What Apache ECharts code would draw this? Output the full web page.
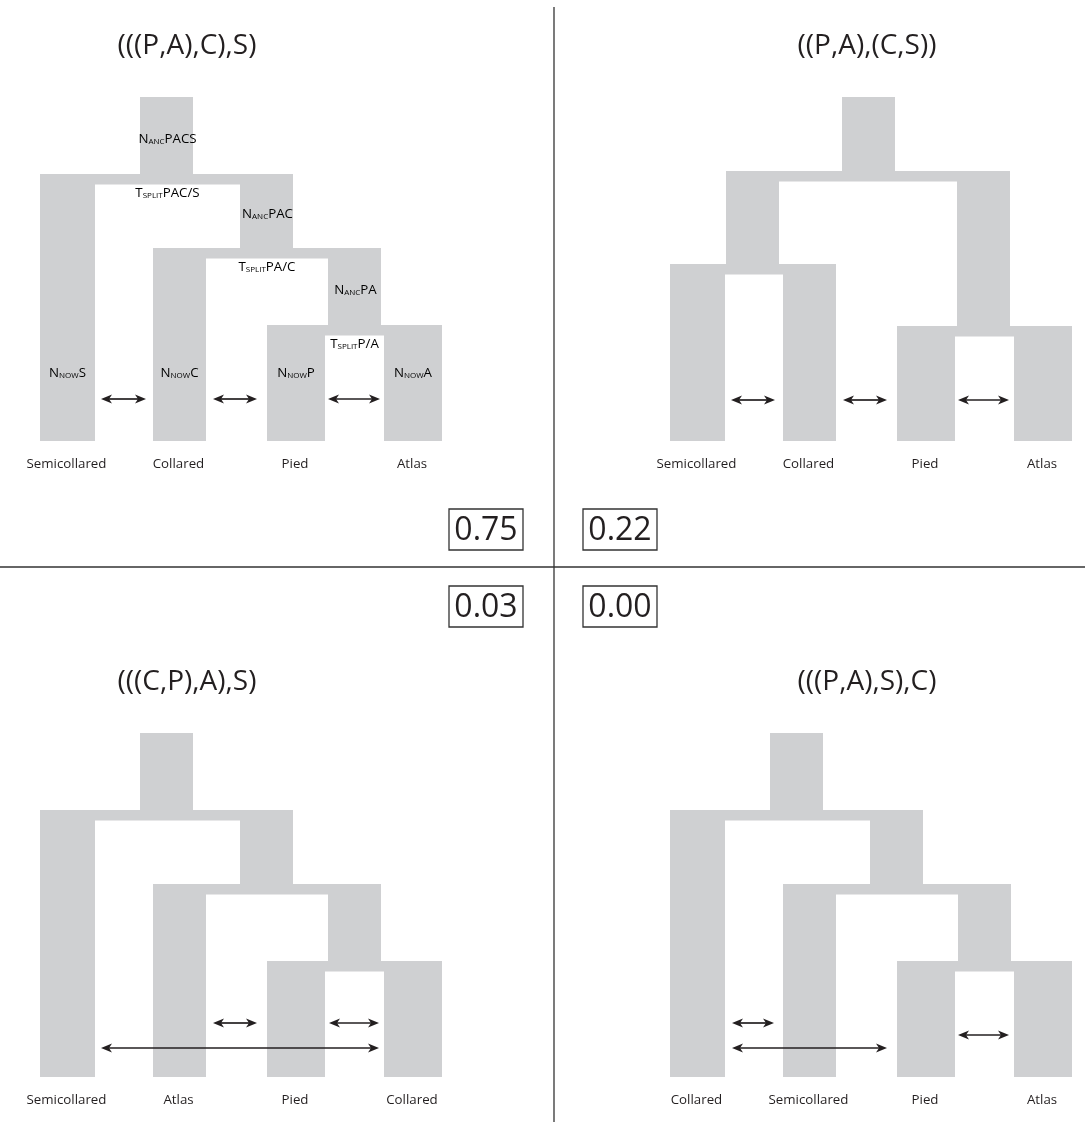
<!DOCTYPE html>
<html>
<head>
<meta charset="utf-8">
<script src="https://cdn.jsdelivr.net/npm/echarts@6/dist/echarts.min.js"></script>
<style>
  html, body { margin: 0; padding: 0; background: #fff; }
  #container { width: 1085px; height: 1122px; }
</style>
</head>
<body>
<div id="container"></div>
<script>
const W = 1085, H = 1122;
const GRAY = '#cfd0d2';
const INK = '#231f20';
const FONT = '"Open Sans", sans-serif';

// one topology per quadrant
const titles = ['(((P,A),C),S)', '((P,A),(C,S))', '(((C,P),A),S)', '(((P,A),S),C)'];
const probs = [0.75, 0.22, 0.03, 0.00];
const leafNames = [
  ['Semicollared', 'Collared', 'Pied', 'Atlas'],
  ['Semicollared', 'Collared', 'Pied', 'Atlas'],
  ['Semicollared', 'Atlas', 'Pied', 'Collared'],
  ['Collared', 'Semicollared', 'Pied', 'Atlas']
];

// present-day populations, same slots in every panel
const leafSpans = [[40, 95], [153, 206], [267, 325], [384, 442]];
const rootTop = 97;
const present = 441;

// internal nodes: ancestral column span, split height, children (number = leaf slot)
const ladderTree = {span: [140, 193], split: 174, children: [0,
  {span: [240, 293], split: 248, children: [1,
    {span: [328, 381], split: 325, children: [2, 3]}]}]};
const balancedTree = {span: [212, 265], split: 171, children: [
  {span: [96, 149], split: 264, children: [0, 1]},
  {span: [327, 380], split: 326, children: [2, 3]}]};
const trees = [ladderTree, balancedTree, ladderTree, ladderTree];

// gene flow arrows per panel: [from x, to x, height]
const migration = [
  [[101, 146, 399], [213, 257, 399], [328, 380, 399]],
  [[101, 145, 400], [213, 257, 400], [328, 379, 400]],
  [[213, 257, 387], [329, 379, 387], [101, 379, 412]],
  [[102, 144, 387], [102, 257, 412], [328, 379, 399]]
];

// parameter names written on the first tree
const ancNames = ['PACS', 'PAC', 'PA'];
const splitNames = ['PAC/S', 'PA/C', 'P/A'];
const nowNames = ['S', 'C', 'P', 'A'];

// quadrant origins
const offsets = [[0, 0], [630, 0], [0, 636], [630, 636]];
const titleX = [187, 237, 187, 237];
const cross = [554, 567];
const BAR = 10.5;

function spanOf(n) { return typeof n === 'number' ? leafSpans[n] : n.span; }

function collect(node, top, out) {
  if (typeof node === 'number') {
    out.push([leafSpans[node][0], top, leafSpans[node][1], present]);
    return;
  }
  out.push([node.span[0], top, node.span[1], node.split]);
  const first = spanOf(node.children[0]);
  const last = spanOf(node.children[node.children.length - 1]);
  out.push([first[0], node.split, last[1], node.split + BAR]);
  node.children.forEach(c => collect(c, node.split, out));
}

const rects = [];
trees.forEach((t, i) => {
  const out = [];
  collect(t, rootTop, out);
  const [ox, oy] = offsets[i];
  out.forEach(r => rects.push([r[0] + ox, r[1] + oy, r[2] + ox, r[3] + oy]));
});

const arrows = [];
migration.forEach((list, i) => {
  const [ox, oy] = offsets[i];
  list.forEach(a => arrows.push([a[0] + ox, a[1] + ox, a[2] + oy]));
});

const texts = [];
titles.forEach((t, i) => {
  texts.push({x: titleX[i] + offsets[i][0], y: 46 + offsets[i][1], text: t, size: 28});
  leafNames[i].forEach((n, k) => {
    const s = leafSpans[k];
    texts.push({x: (s[0] + s[1]) / 2 + offsets[i][0] - 1, y: 464 + offsets[i][1], text: n, size: 13.3});
  });
});

// annotations on the first tree
const notes = [];
(function walk(node, top, depth) {
  if (typeof node === 'number') return;
  notes.push({x: (node.span[0] + node.span[1]) / 2 + 1, y: (top + node.split) / 2 + 3,
    main: 'N', sub: 'ANC', tail: ancNames[depth]});
  const a = spanOf(node.children[0]), b = spanOf(node.children[1]);
  notes.push({x: (a[1] + b[0]) / 2, y: node.split + 19, main: 'T', sub: 'SPLIT', tail: splitNames[depth]});
  walk(node.children[1], node.split, depth + 1);
})(ladderTree, rootTop, 0);
leafSpans.forEach((s, k) => {
  notes.push({x: (s[0] + s[1]) / 2, y: 373, main: 'N', sub: 'NOW', tail: nowNames[k]});
});

const chart = echarts.init(document.getElementById('container'));

function txt(x, y, text, size) {
  return {type: 'text', x: x, y: y, style: {text: text, fill: INK, font: size + 'px ' + FONT,
    align: 'center', verticalAlign: 'middle'}};
}

chart.setOption({
  animation: false,
  grid: {left: 0, top: 0, width: W, height: H},
  xAxis: {type: 'value', min: 0, max: W, show: false},
  yAxis: {type: 'value', min: 0, max: H, inverse: true, show: false},
  graphic: [
    {type: 'line', shape: {x1: cross[0], y1: 7, x2: cross[0], y2: H}, style: {stroke: '#333', lineWidth: 1.3}},
    {type: 'line', shape: {x1: 0, y1: cross[1], x2: W, y2: cross[1]}, style: {stroke: '#333', lineWidth: 1.3}}
  ],
  series: [
    {
      type: 'custom',
      name: 'branches',
      data: rects,
      renderItem: (params, api) => {
        const p0 = api.coord([api.value(0), api.value(1)]);
        const p1 = api.coord([api.value(2), api.value(3)]);
        return {type: 'rect', shape: {x: p0[0], y: p0[1], width: p1[0] - p0[0], height: p1[1] - p0[1]},
          style: {fill: GRAY}};
      }
    },
    {
      type: 'custom',
      name: 'migration',
      data: arrows,
      renderItem: (params, api) => {
        const a = api.coord([api.value(0), api.value(2)]);
        const b = api.coord([api.value(1), api.value(2)]);
        const y = a[1], L = 11, hw = 4.6, notch = 8;
        return {type: 'group', children: [
          {type: 'line', shape: {x1: a[0] + notch, y1: y, x2: b[0] - notch, y2: y}, style: {stroke: INK, lineWidth: 1.7}},
          {type: 'polygon', shape: {points: [[a[0], y], [a[0] + L, y - hw], [a[0] + notch, y], [a[0] + L, y + hw]]}, style: {fill: INK}},
          {type: 'polygon', shape: {points: [[b[0], y], [b[0] - L, y - hw], [b[0] - notch, y], [b[0] - L, y + hw]]}, style: {fill: INK}}
        ]};
      }
    },
    {
      type: 'custom',
      name: 'labels',
      data: texts.map(t => [t.x, t.y]),
      renderItem: (params, api) => {
        const t = texts[params.dataIndex];
        const p = api.coord([api.value(0), api.value(1)]);
        return txt(p[0], p[1], t.text, t.size);
      }
    },
    {
      type: 'custom',
      name: 'parameters',
      data: notes.map(n => [n.x, n.y]),
      renderItem: (params, api) => {
        const n = notes[params.dataIndex];
        const p = api.coord([api.value(0), api.value(1)]);
        return {type: 'text', x: p[0], y: p[1], style: {
          text: '{m|' + n.main + '}{s|' + n.sub + '}{m|' + n.tail + '}',
          align: 'center', verticalAlign: 'middle',
          rich: {
            m: {fontSize: 13.3, fontFamily: FONT, color: INK, lineHeight: 14, verticalAlign: 'bottom'},
            s: {fontSize: 8, fontFamily: FONT, color: INK, lineHeight: 9, verticalAlign: 'bottom'}
          }
        }};
      }
    },
    {
      type: 'custom',
      name: 'support',
      data: probs.map((v, i) => [i % 2 ? cross[0] + 29 : cross[0] - 105, i < 2 ? cross[1] - 58 : cross[1] + 19]),
      renderItem: (params, api) => {
        const p0 = api.coord([api.value(0), api.value(1)]);
        const p1 = api.coord([api.value(0) + 74, api.value(1) + 41]);
        return {type: 'group', children: [
          {type: 'rect', shape: {x: p0[0], y: p0[1], width: p1[0] - p0[0], height: p1[1] - p0[1]},
            style: {fill: '#fff', stroke: '#333', lineWidth: 1.3}},
          txt((p0[0] + p1[0]) / 2, (p0[1] + p1[1]) / 2 + 1, probs[params.dataIndex].toFixed(2), 32)
        ]};
      }
    }
  ]
});
</script>
</body>
</html>
